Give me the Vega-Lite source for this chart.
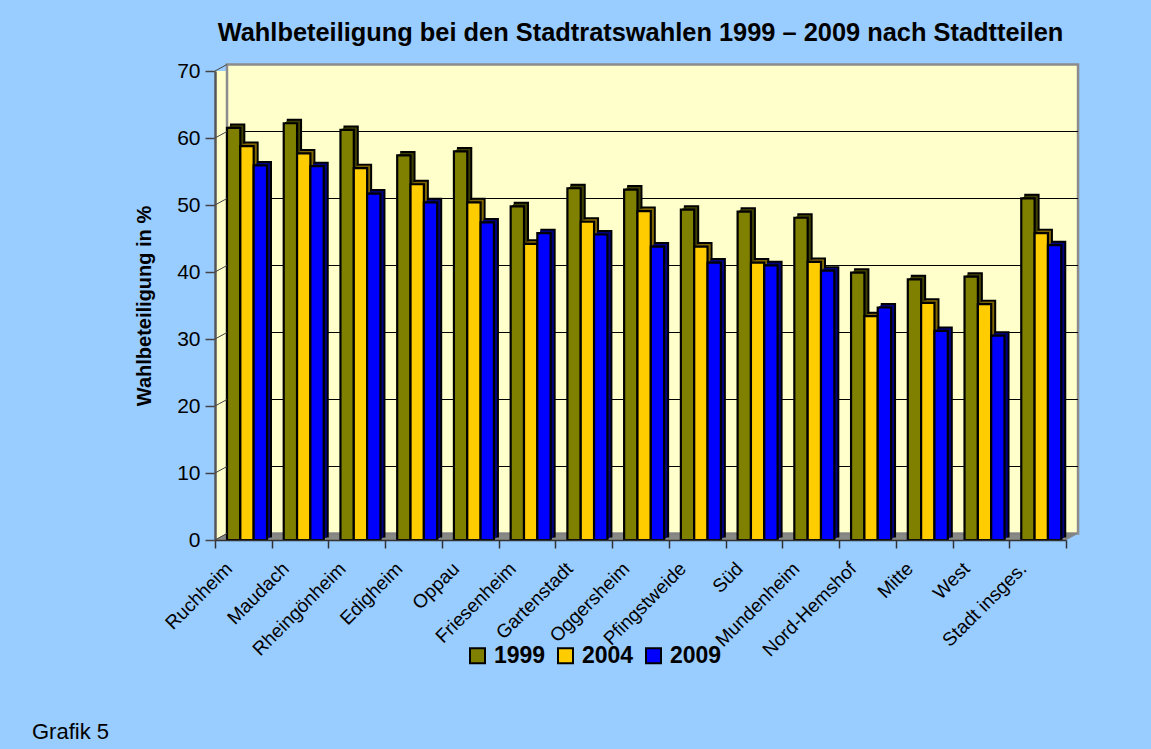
{
"$schema":"https://vega.github.io/schema/vega-lite/v6.json",
"width":851,"height":469,
"autosize":"none",
"padding":{"left":215,"top":71,"right":85,"bottom":209},
"background":"#99CCFF",
"view":{"fill":"#FFFFCC","stroke":null},
"title":{"text":"Wahlbeteiligung bei den Stadtratswahlen 1999 – 2009 nach Stadtteilen","font":"Liberation Sans","fontSize":25.4,"fontWeight":"bold","color":"#000000","anchor":"middle","offset":14},
"datasets":{
"grid":[{"v":10},{"v":20},{"v":30},{"v":40},{"v":50},{"v":60}],
"ticks":[{"v":0},{"v":10},{"v":20},{"v":30},{"v":40},{"v":50},{"v":60},{"v":70}],
"one":[{"note":"Grafik 5"}],
"bars":[
{"t":"Ruchheim","year":"1999","p":61.5},{"t":"Ruchheim","year":"2004","p":58.8},{"t":"Ruchheim","year":"2009","p":55.9},
{"t":"Maudach","year":"1999","p":62.2},{"t":"Maudach","year":"2004","p":57.7},{"t":"Maudach","year":"2009","p":55.8},
{"t":"Rheingönheim","year":"1999","p":61.2},{"t":"Rheingönheim","year":"2004","p":55.5},{"t":"Rheingönheim","year":"2009","p":51.7},
{"t":"Edigheim","year":"1999","p":57.4},{"t":"Edigheim","year":"2004","p":53.1},{"t":"Edigheim","year":"2009","p":50.4},
{"t":"Oppau","year":"1999","p":58.0},{"t":"Oppau","year":"2004","p":50.4},{"t":"Oppau","year":"2009","p":47.4},
{"t":"Friesenheim","year":"1999","p":49.8},{"t":"Friesenheim","year":"2004","p":44.2},{"t":"Friesenheim","year":"2009","p":45.8},
{"t":"Gartenstadt","year":"1999","p":52.5},{"t":"Gartenstadt","year":"2004","p":47.5},{"t":"Gartenstadt","year":"2009","p":45.6},
{"t":"Oggersheim","year":"1999","p":52.3},{"t":"Oggersheim","year":"2004","p":49.1},{"t":"Oggersheim","year":"2009","p":43.8},
{"t":"Pfingstweide","year":"1999","p":49.3},{"t":"Pfingstweide","year":"2004","p":43.8},{"t":"Pfingstweide","year":"2009","p":41.4},
{"t":"Süd","year":"1999","p":49.0},{"t":"Süd","year":"2004","p":41.4},{"t":"Süd","year":"2009","p":41.0},
{"t":"Mundenheim","year":"1999","p":48.1},{"t":"Mundenheim","year":"2004","p":41.5},{"t":"Mundenheim","year":"2009","p":40.2},
{"t":"Nord-Hemshof","year":"1999","p":39.9},{"t":"Nord-Hemshof","year":"2004","p":33.4},{"t":"Nord-Hemshof","year":"2009","p":34.7},
{"t":"Mitte","year":"1999","p":38.9},{"t":"Mitte","year":"2004","p":35.4},{"t":"Mitte","year":"2009","p":31.2},
{"t":"West","year":"1999","p":39.3},{"t":"West","year":"2004","p":35.2},{"t":"West","year":"2009","p":30.5},
{"t":"Stadt insges.","year":"1999","p":51.0},{"t":"Stadt insges.","year":"2004","p":45.8},{"t":"Stadt insges.","year":"2009","p":44.0}
]},
"data":{"name":"bars"},
"config":{"font":"Liberation Sans"},
"resolve":{"scale":{"xOffset":"independent"},"legend":{"color":"independent","fill":"independent"}},
"layer":[
{"data":{"name":"one"},"mark":{"type":"rect","fill":"#FFFFCC","stroke":"#8C8C8C","strokeWidth":2.5,"xOffset":12,"x2Offset":40.4,"yOffset":-6.5,"y2Offset":-6.5},
 "encoding":{"x":{"datum":"Ruchheim","bandPosition":0,"scale":{"domain":["Ruchheim","Maudach","Rheingönheim","Edigheim","Oppau","Friesenheim","Gartenstadt","Oggersheim","Pfingstweide","Süd","Mundenheim","Nord-Hemshof","Mitte","West","Stadt insges."],"paddingInner":0,"paddingOuter":0}},"x2":{"datum":"Stadt insges."},"y":{"datum":0,"type":"quantitative","scale":{"domain":[0,70],"nice":false}},"y2":{"datum":70}}},
{"data":{"name":"grid"},"mark":{"type":"rule","color":"#000000","strokeWidth":1,"xOffset":12,"x2Offset":40.4,"yOffset":-6.5,"y2Offset":-6.5},
 "encoding":{"x":{"datum":"Ruchheim","bandPosition":0},"x2":{"datum":"Stadt insges."},"y":{"field":"v","type":"quantitative"}}},
{"data":{"name":"one"},"mark":{"type":"rule","color":"#808080","strokeWidth":1.5,"yOffset":0,"xOffset":0,"x2Offset":28.4},"encoding":{"x":{"datum":"Ruchheim","bandPosition":0},"x2":{"datum":"Stadt insges."},"y":{"datum":0,"type":"quantitative"}}},
{"data":{"name":"one"},"mark":{"type":"rule","color":"#808080","strokeWidth":1.5,"yOffset":-1,"xOffset":1.8,"x2Offset":30.2},"encoding":{"x":{"datum":"Ruchheim","bandPosition":0},"x2":{"datum":"Stadt insges."},"y":{"datum":0,"type":"quantitative"}}},
{"data":{"name":"one"},"mark":{"type":"rule","color":"#808080","strokeWidth":1.5,"yOffset":-2,"xOffset":3.6,"x2Offset":32},"encoding":{"x":{"datum":"Ruchheim","bandPosition":0},"x2":{"datum":"Stadt insges."},"y":{"datum":0,"type":"quantitative"}}},
{"data":{"name":"one"},"mark":{"type":"rule","color":"#808080","strokeWidth":1.5,"yOffset":-3,"xOffset":5.4,"x2Offset":33.8},"encoding":{"x":{"datum":"Ruchheim","bandPosition":0},"x2":{"datum":"Stadt insges."},"y":{"datum":0,"type":"quantitative"}}},
{"data":{"name":"one"},"mark":{"type":"rule","color":"#808080","strokeWidth":1.5,"yOffset":-4,"xOffset":7.2,"x2Offset":35.6},"encoding":{"x":{"datum":"Ruchheim","bandPosition":0},"x2":{"datum":"Stadt insges."},"y":{"datum":0,"type":"quantitative"}}},
{"data":{"name":"one"},"mark":{"type":"rule","color":"#808080","strokeWidth":1.5,"yOffset":-5,"xOffset":9,"x2Offset":37.4},"encoding":{"x":{"datum":"Ruchheim","bandPosition":0},"x2":{"datum":"Stadt insges."},"y":{"datum":0,"type":"quantitative"}}},
{"data":{"name":"one"},"mark":{"type":"rule","color":"#808080","strokeWidth":1.5,"yOffset":-6,"xOffset":10.8,"x2Offset":39.2},"encoding":{"x":{"datum":"Ruchheim","bandPosition":0},"x2":{"datum":"Stadt insges."},"y":{"datum":0,"type":"quantitative"}}},
{"mark":{"type":"bar","stroke":"#000000","strokeWidth":2,"yOffset":-3.5,"y2Offset":-3.5},
 "encoding":{"x":{"field":"t","type":"nominal"},"xOffset":{"field":"year","type":"nominal","scale":{"range":[16,56],"paddingInner":0,"paddingOuter":0}},"y":{"field":"p","type":"quantitative"},
 "fill":{"field":"year","type":"nominal","legend":null,"scale":{"domain":["1999","2004","2009"],"range":["#404000","#806600","#000080"]}}}},
{"mark":{"type":"bar","yOffset":-2.3,"y2Offset":-2.3},
 "encoding":{"x":{"field":"t","type":"nominal"},"xOffset":{"field":"year","type":"nominal","scale":{"range":[14.7,54.7],"paddingInner":0,"paddingOuter":0}},"y":{"field":"p","type":"quantitative"},
 "fill":{"field":"year","type":"nominal","legend":null}}},
{"mark":{"type":"bar","yOffset":-1.2,"y2Offset":-1.2},
 "encoding":{"x":{"field":"t","type":"nominal"},"xOffset":{"field":"year","type":"nominal","scale":{"range":[13.3,53.3],"paddingInner":0,"paddingOuter":0}},"y":{"field":"p","type":"quantitative"},
 "fill":{"field":"year","type":"nominal","legend":null}}},
{"mark":{"type":"bar","stroke":"#000000","strokeWidth":2.2},
 "encoding":{
 "x":{"field":"t","type":"nominal","title":null,
  "axis":{"labelAngle":-45,"labelAlign":"right","labelBaseline":"top","labelFontSize":19,"labelColor":"#000000","labelPadding":11,"labelOffset":-21,"tickBand":"extent","tickSize":8,"tickColor":"#333333","tickWidth":1.5,"domainColor":"#333333","domainWidth":1.5,"labelOverlap":false,"labelLimit":200}},
 "xOffset":{"field":"year","type":"nominal","scale":{"range":[12,52],"paddingInner":0,"paddingOuter":0}},
 "y":{"field":"p","type":"quantitative","title":"Wahlbeteiligung in %",
  "axis":{"values":[0,10,20,30,40,50,60,70],"grid":false,"labelFontSize":21,"labelColor":"#000000","tickSize":10,"tickColor":"#444444","tickWidth":1.5,"domainColor":"#555555","domainWidth":2.5,"labelPadding":5,"titleFontSize":20,"titleFontWeight":"bold","titleColor":"#000000","titlePadding":22}},
 "color":{"field":"year","type":"nominal","title":null,
  "scale":{"domain":["1999","2004","2009"],"range":["#808000","#FFCC00","#0000FF"]},
  "legend":{"orient":"none","legendX":251,"legendY":573,"direction":"horizontal","columns":3,"symbolType":"square","symbolSize":225,"symbolStrokeColor":"#000000","symbolStrokeWidth":2,"labelFontSize":23,"labelFontWeight":"bold","labelColor":"#000000","columnPadding":8,"labelOffset":5}}}},
{"data":{"name":"ticks"},"mark":{"type":"rule","color":"#444444","strokeWidth":1,"xOffset":0,"x2Offset":-16.4,"y2Offset":-6.5},
 "encoding":{"x":{"datum":"Ruchheim","bandPosition":0},"x2":{"datum":"Ruchheim"},"y":{"field":"v","type":"quantitative"},"y2":{"field":"v"}}},
{"data":{"name":"one"},"mark":{"type":"text","align":"left","baseline":"middle","fontSize":22,"color":"#000000","xOffset":-183,"yOffset":192},
 "encoding":{"text":{"field":"note","type":"nominal"},"x":{"datum":"Ruchheim","bandPosition":0},"y":{"datum":0,"type":"quantitative"}}}
]
}
